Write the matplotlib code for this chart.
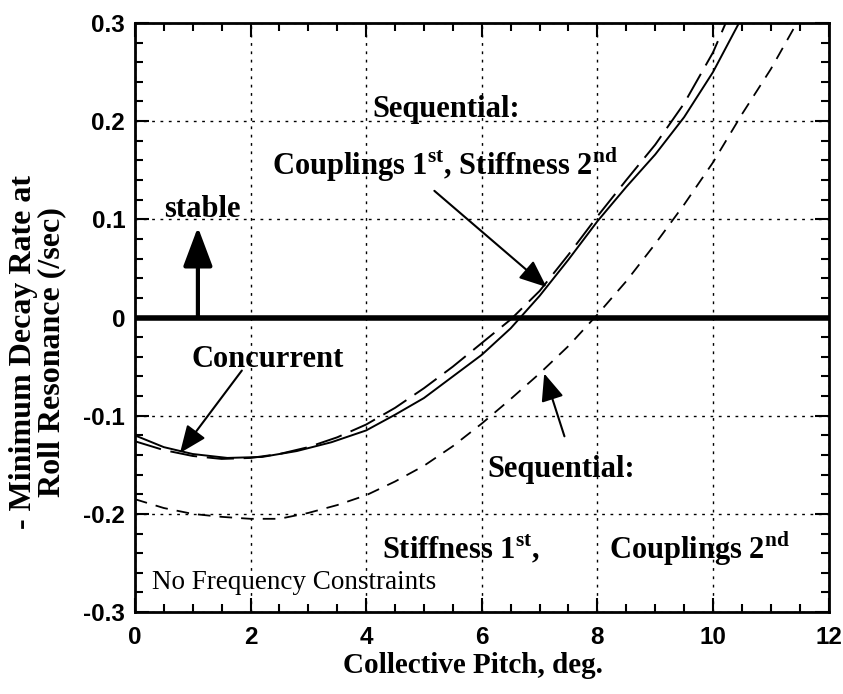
import matplotlib
matplotlib.use('Agg')
import matplotlib.pyplot as plt
from matplotlib.ticker import MultipleLocator

# Kurven
x_coupl = [0, 0.5, 1.0, 1.6, 2.2, 2.8, 3.4, 4.0, 4.5, 5.0, 5.5, 6.0, 6.5, 7.0, 7.5, 8.0, 8.5, 9.0, 9.5, 10.0, 10.45]
y_coupl = [-0.120, -0.132, -0.139, -0.143, -0.142, -0.136, -0.127, -0.115, -0.099, -0.082, -0.060,
           -0.038, -0.011, 0.022, 0.059, 0.098, 0.133, 0.166, 0.204, 0.250, 0.300]

x_conc = [0, 0.5, 1.0, 1.5, 2.0, 2.5, 3.0, 3.5, 4.0, 4.5, 5.0, 5.5, 6.0, 6.5, 7.0, 7.5, 8.0, 8.5, 9.0, 9.5, 10.0, 10.22]
y_conc = [-0.126, -0.135, -0.141, -0.144, -0.143, -0.139, -0.132, -0.122, -0.109, -0.092, -0.072, -0.050,
          -0.026, -0.002, 0.027, 0.064, 0.103, 0.140, 0.176, 0.218, 0.270, 0.300]

x_stiff = [0, 0.5, 1.0, 1.5, 2.0, 2.5, 3.0, 3.5, 4.0, 4.5, 5.0, 5.5, 6.0, 6.5, 7.0, 7.5, 8.0, 8.5, 9.0, 9.5,
           10.0, 10.5, 11.0, 11.45]
y_stiff = [-0.185, -0.194, -0.200, -0.203, -0.205, -0.205, -0.199, -0.191, -0.181, -0.167, -0.151, -0.131,
           -0.108, -0.083, -0.057, -0.029, 0.003, 0.037, 0.075, 0.115, 0.158, 0.207, 0.253, 0.300]

x_ticks = [0, 2, 4, 6, 8, 10, 12]
y_ticks = [-0.3, -0.2, -0.1, 0, 0.1, 0.2, 0.3]
y_ticklabels = ['-0.3', '-0.2', '-0.1', '0', '0.1', '0.2', '0.3']

serif = ['Liberation Serif', 'DejaVu Serif']
sans = ['Liberation Sans', 'DejaVu Sans']

plt.rcParams['mathtext.fontset'] = 'custom'
plt.rcParams['mathtext.rm'] = 'Liberation Serif'
plt.rcParams['mathtext.bf'] = 'Liberation Serif:bold'

fig = plt.figure(figsize=(8.43, 6.94), dpi=100)
ax = fig.add_axes([0.160, 0.118, 0.823, 0.849])

ax.plot(x_coupl, y_coupl, color='k', lw=1.4)
ax.plot(x_conc, y_conc, color='k', lw=1.4, dashes=(14, 5))
ax.plot(x_stiff, y_stiff, color='k', lw=1.3, dashes=(7, 5))
ax.axhline(0, color='k', lw=4)

ax.set_xlim(0, 12)
ax.set_ylim(-0.3, 0.3)
ax.set_xticks(x_ticks)
ax.set_yticks(y_ticks)
ax.set_yticklabels(y_ticklabels)
ax.xaxis.set_minor_locator(MultipleLocator(0.5))
ax.yaxis.set_minor_locator(MultipleLocator(0.02))
ax.tick_params(which='both', direction='in', top=True, right=True, width=1.5, colors='k')
ax.tick_params(which='major', length=10)
ax.tick_params(axis='y', which='major', pad=7)
ax.tick_params(axis='x', which='major', pad=10)
ax.tick_params(which='minor', length=6)
for lab in ax.get_xticklabels() + ax.get_yticklabels():
    lab.set_family(sans)
    lab.set_fontweight('bold')
    lab.set_fontsize(17.5)
for sp in ax.spines.values():
    sp.set_linewidth(2)

ax.grid(True, which='major', color='k', lw=1, ls=(0, (2, 4)))

ax.set_xlabel('Collective Pitch, deg.', family=serif, fontweight='bold', fontsize=21)
ax.xaxis.set_label_coords(0.487, -0.068)
fig.text(0.045, 0.493, '- Minimum Decay Rate at\nRoll Resonance (/sec)', rotation=90, ha='center',
         va='center', ma='center', linespacing=0.95, family=serif, fontweight='bold', fontsize=23)

tkw = dict(family=serif, fontweight='bold', fontsize=22, color='k')
head = dict(arrowstyle='-|>,head_length=0.6,head_width=0.25', lw=1.5, color='k',
            mutation_scale=28, shrinkA=0, shrinkB=0)

# stable arrow
ax.annotate('', xy=(1.09, 0.092), xytext=(1.09, 0.0),
            arrowprops=dict(arrowstyle='-|>,head_length=0.8,head_width=0.3', lw=3, color='k',
                            mutation_scale=30, shrinkA=0, shrinkB=0))
ax.text(1.16, 0.095, 'stable', ha='center', va='bottom', **tkw)

ax.text(4.11, 0.212, 'Sequential:', ha='left', va='center', **tkw)
ax.text(2.38, 0.155, r'Couplings 1$^{\mathbf{st}}$, Stiffness 2$^{\mathbf{nd}}$', ha='left', va='center', **tkw)
ax.annotate('', xy=(7.12, 0.031), xytext=(5.18, 0.129), arrowprops=head)

ax.text(0.98, -0.043, 'Concurrent', ha='left', va='center', **tkw)
ax.annotate('', xy=(0.78, -0.138), xytext=(1.85, -0.054), arrowprops=head)

ax.text(6.1, -0.155, 'Sequential:', ha='left', va='center', **tkw)
ax.text(4.27, -0.236, r'Stiffness 1$^{\mathbf{st}}$,', ha='left', va='center', **tkw)
ax.text(8.2, -0.236, r'Couplings 2$^{\mathbf{nd}}$', ha='left', va='center', **tkw)
ax.annotate('', xy=(7.08, -0.057), xytext=(7.43, -0.121), arrowprops=head)

ax.text(0.3, -0.27, 'No Frequency Constraints', ha='left', va='center',
        family=serif, fontsize=19.5, color='k')

fig.savefig('out.png', dpi=100)
